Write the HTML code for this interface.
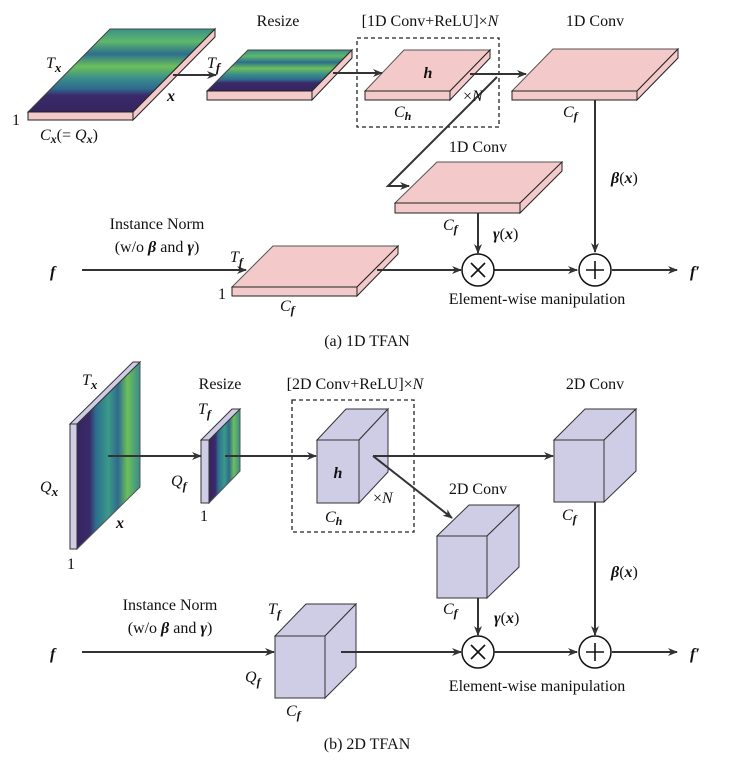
<!DOCTYPE html>
<html><head><meta charset="utf-8"><style>
html,body{margin:0;padding:0;background:#fff;}
svg{display:block;}
text{font-family:"Liberation Serif",serif;font-size:16px;fill:#111;}
.m{font-style:italic;}
.b{font-weight:bold;font-style:italic;}
.c{text-anchor:middle;}
</style></head><body>
<svg width="743" height="763" viewBox="0 0 743 763" xmlns="http://www.w3.org/2000/svg">
<defs>
<marker id="ar" markerWidth="10" markerHeight="8" refX="9" refY="4" orient="auto" markerUnits="userSpaceOnUse">
<path d="M0,0 L10,4 L0,8 L3,4 z" fill="#333"/></marker>
<linearGradient id="sh" x1="0" y1="0" x2="0" y2="1">
<stop offset="0" stop-color="#3b8f8a"/><stop offset="0.15" stop-color="#5fb86a"/><stop offset="0.3" stop-color="#2c6e8e"/>
<stop offset="0.45" stop-color="#6cc05a"/><stop offset="0.6" stop-color="#3a8c8c"/><stop offset="0.72" stop-color="#2f6a8e"/>
<stop offset="0.8" stop-color="#3a2a6a"/><stop offset="1" stop-color="#35245e"/></linearGradient>
<linearGradient id="sv" x1="0" y1="0" x2="1" y2="0">
<stop offset="0" stop-color="#35245e"/><stop offset="0.2" stop-color="#3a2a6a"/><stop offset="0.3" stop-color="#2c6e8e"/>
<stop offset="0.5" stop-color="#3a9a88"/><stop offset="0.65" stop-color="#2f6a8e"/><stop offset="0.8" stop-color="#6cc05a"/><stop offset="1" stop-color="#3a8c8c"/></linearGradient>
</defs>
<g stroke="#222" stroke-width="1">
<!-- top big slab -->
<polygon points="28,112 110,29 215,29 133,112" fill="url(#sh)" stroke="#444"/>
<polygon points="28,112 133,112 133,120 28,120" fill="#f4c9c9"/>
<polygon points="133,112 215,29 215,37 133,120" fill="#f4c9c9"/>
<!-- small slab -->
<polygon points="207,91 248,50 352,50 312,91" fill="url(#sh)" stroke="#444"/>
<polygon points="207,91 312,91 312,100 207,100" fill="#f4c9c9"/>
<polygon points="312,91 352,50 352,58 312,100" fill="#f4c9c9"/>
<!-- h slab -->
<polygon points="365,91 404,50 490,50 450,91" fill="#f4c9c9" stroke="#555"/>
<polygon points="365,91 450,91 450,100 365,100" fill="#f4c9c9"/>
<polygon points="450,91 490,50 490,58 450,100" fill="#f4c9c9"/>
<!-- right slab -->
<polygon points="512,91 553,49 678,49 637,91" fill="#f4c9c9" stroke="#555"/>
<polygon points="512,91 637,91 637,100 512,100" fill="#f4c9c9"/>
<polygon points="637,91 678,49 678,58 637,100" fill="#f4c9c9"/>
<!-- gamma slab -->
<polygon points="395,203 437,162 562,162 520,203" fill="#f4c9c9" stroke="#555"/>
<polygon points="395,203 520,203 520,213 395,213" fill="#f4c9c9"/>
<polygon points="520,203 562,162 562,171 520,213" fill="#f4c9c9"/>
<!-- bottom slab -->
<polygon points="232,287 273,246 398,246 357,287" fill="#f4c9c9" stroke="#555"/>
<polygon points="232,287 357,287 357,296 232,296" fill="#f4c9c9"/>
<polygon points="357,287 398,246 398,254 357,296" fill="#f4c9c9"/>
</g>
<rect x="357" y="38" width="142" height="89" fill="none" stroke="#222" stroke-width="1.3" stroke-dasharray="4,3"/>
<g stroke="#333" stroke-width="2" fill="none">
<line x1="173" y1="75" x2="216" y2="75" marker-end="url(#ar)"/>
<line x1="333" y1="73" x2="382" y2="73" marker-end="url(#ar)"/>
<line x1="470" y1="74" x2="526" y2="74" marker-end="url(#ar)"/>
<polyline points="497,77 388,186 409,186" marker-end="url(#ar)"/>
<line x1="595" y1="100" x2="595" y2="252" marker-end="url(#ar)"/>
<line x1="478" y1="213" x2="478" y2="253" marker-end="url(#ar)"/>
<line x1="82" y1="270" x2="246" y2="270" marker-end="url(#ar)"/>
<line x1="377" y1="270" x2="461" y2="270" marker-end="url(#ar)"/>
<line x1="494" y1="270" x2="577" y2="270" marker-end="url(#ar)"/>
<line x1="612" y1="270" x2="677" y2="270" marker-end="url(#ar)"/>
</g>
<g stroke="#111" stroke-width="1.5" fill="#fff">
<circle cx="478" cy="270" r="16"/><circle cx="595" cy="270" r="16"/>
<circle cx="478" cy="652" r="16"/><circle cx="595" cy="652" r="16"/>
</g>
<g stroke="#111" stroke-width="1.6">
<line x1="471" y1="263" x2="485" y2="277"/><line x1="485" y1="263" x2="471" y2="277"/>
<line x1="595" y1="261" x2="595" y2="279"/><line x1="586" y1="270" x2="604" y2="270"/>
<line x1="471" y1="645" x2="485" y2="659"/><line x1="485" y1="645" x2="471" y2="659"/>
<line x1="595" y1="643" x2="595" y2="661"/><line x1="586" y1="652" x2="604" y2="652"/>
</g>
<!-- top labels -->
<text x="278" y="26" class="c">Resize</text>
<text x="430" y="26" class="c">[1D Conv+ReLU]×<tspan class="m">N</tspan></text>
<text x="595" y="26" class="c">1D Conv</text>
<text x="46" y="68" class="m" font-size="18">T<tspan class="b" font-size="13" dy="4">x</tspan></text>
<text x="12" y="125" font-size="18">1</text>
<text x="40" y="140" class="m">C<tspan class="b" font-size="12" dy="3">x</tspan><tspan dy="-3" font-style="normal">(= </tspan>Q<tspan class="b" font-size="12" dy="3">x</tspan><tspan dy="-3" font-style="normal">)</tspan></text>
<text x="167" y="101" class="b" font-size="18">x</text>
<text x="207" y="68" class="m" font-size="18">T<tspan class="b" font-size="13" dy="4">f</tspan></text>
<text x="428" y="78" class="b" font-size="19" text-anchor="middle">h</text>
<text x="394" y="117" class="m">C<tspan class="b" font-size="12" dy="3">h</tspan></text>
<text x="463" y="101" font-size="15">×<tspan class="m">N</tspan></text>
<text x="563" y="117" class="m">C<tspan class="b" font-size="12" dy="3">f</tspan></text>
<text x="478" y="152" class="c">1D Conv</text>
<text x="443" y="230" class="m">C<tspan class="b" font-size="12" dy="3">f</tspan></text>
<text x="493" y="239" font-size="18"><tspan class="b">γ</tspan>(<tspan class="b">x</tspan>)</text>
<text x="611" y="183" font-size="18"><tspan class="b">β</tspan>(<tspan class="b">x</tspan>)</text>
<text x="157" y="229" class="c">Instance Norm</text>
<text x="157" y="252" class="c">(w/o <tspan class="b">β</tspan> and <tspan class="b">γ</tspan>)</text>
<text x="50" y="277" class="b" font-size="20">f</text>
<text x="230" y="262" class="m" font-size="17">T<tspan class="b" font-size="12" dy="4">f</tspan></text>
<text x="218" y="299">1</text>
<text x="280" y="311" class="m">C<tspan class="b" font-size="12" dy="3">f</tspan></text>
<text x="690" y="277" class="b" font-size="20">f′</text>
<text x="537" y="304" class="c">Element-wise manipulation</text>
<text x="367" y="346" class="c" font-size="20">(a) 1D TFAN</text>

<!-- bottom section shapes -->
<g stroke="#333" stroke-width="1">
<polygon points="77,424 140,362 140,487 77,549" fill="url(#sv)" stroke="#555"/>
<polygon points="70,424 133,362 140,362 77,424" fill="#cfcde6"/>
<rect x="70" y="424" width="7" height="125" fill="#cfcde6"/>
<polygon points="209,440 240,409 240,471 209,503" fill="url(#sv)" stroke="#555"/>
<polygon points="201,440 232,409 240,409 209,440" fill="#cfcde6"/>
<rect x="201" y="440" width="8" height="63" fill="#cfcde6"/>
<!-- h cube -->
<polygon points="317,440 346,409 388,409 359,440" fill="#cfcde6"/>
<polygon points="359,440 388,409 388,472 359,503" fill="#cfcde6"/>
<rect x="317" y="440" width="42" height="63" fill="#cfcde6"/>
<!-- right cube -->
<polygon points="554,440 585,409 636,409 604,440" fill="#cfcde6"/>
<polygon points="604,440 636,409 636,471 604,502" fill="#cfcde6"/>
<rect x="554" y="440" width="50" height="62" fill="#cfcde6"/>
<!-- middle cube -->
<polygon points="437,536 469,505 519,505 487,536" fill="#cfcde6"/>
<polygon points="487,536 519,505 519,567 487,598" fill="#cfcde6"/>
<rect x="437" y="536" width="50" height="62" fill="#cfcde6"/>
<!-- bottom cube -->
<polygon points="275,636 306,604 356,604 325,636" fill="#cfcde6"/>
<polygon points="325,636 356,604 356,667 325,698" fill="#cfcde6"/>
<rect x="275" y="636" width="50" height="62" fill="#cfcde6"/>
</g>
<rect x="292" y="400" width="122" height="132" fill="none" stroke="#222" stroke-width="1.3" stroke-dasharray="4,3"/>
<g stroke="#333" stroke-width="2" fill="none">
<line x1="108" y1="456" x2="201" y2="456" marker-end="url(#ar)"/>
<line x1="225" y1="456" x2="316" y2="456" marker-end="url(#ar)"/>
<line x1="373" y1="456" x2="553" y2="456" marker-end="url(#ar)"/>
<line x1="373" y1="456" x2="452" y2="518" marker-end="url(#ar)"/>
<line x1="595" y1="502" x2="595" y2="635" marker-end="url(#ar)"/>
<line x1="478" y1="598" x2="478" y2="635" marker-end="url(#ar)"/>
<line x1="82" y1="652" x2="274" y2="652" marker-end="url(#ar)"/>
<line x1="341" y1="652" x2="461" y2="652" marker-end="url(#ar)"/>
<line x1="494" y1="652" x2="577" y2="652" marker-end="url(#ar)"/>
<line x1="612" y1="652" x2="677" y2="652" marker-end="url(#ar)"/>
</g>
<text x="220" y="389" class="c">Resize</text>
<text x="355" y="389" class="c">[2D Conv+ReLU]×<tspan class="m">N</tspan></text>
<text x="595" y="389" class="c">2D Conv</text>
<text x="82" y="385" class="m" font-size="18">T<tspan class="b" font-size="13" dy="4">x</tspan></text>
<text x="40" y="492" class="m" font-size="18">Q<tspan class="b" font-size="13" dy="4">x</tspan></text>
<text x="116" y="528" class="b" font-size="18">x</text>
<text x="67" y="569" font-size="18">1</text>
<text x="198" y="414" class="m" font-size="17">T<tspan class="b" font-size="12" dy="4">f</tspan></text>
<text x="171" y="486" class="m" font-size="17">Q<tspan class="b" font-size="12" dy="4">f</tspan></text>
<text x="200" y="521">1</text>
<text x="338" y="478" class="b" font-size="19" text-anchor="middle">h</text>
<text x="325" y="522" class="m">C<tspan class="b" font-size="12" dy="3">h</tspan></text>
<text x="373" y="503" font-size="15">×<tspan class="m">N</tspan></text>
<text x="562" y="520" class="m">C<tspan class="b" font-size="12" dy="3">f</tspan></text>
<text x="478" y="494" class="c">2D Conv</text>
<text x="443" y="614" class="m">C<tspan class="b" font-size="12" dy="3">f</tspan></text>
<text x="494" y="623" font-size="18"><tspan class="b">γ</tspan>(<tspan class="b">x</tspan>)</text>
<text x="611" y="577" font-size="18"><tspan class="b">β</tspan>(<tspan class="b">x</tspan>)</text>
<text x="170" y="610" class="c">Instance Norm</text>
<text x="170" y="633" class="c">(w/o <tspan class="b">β</tspan> and <tspan class="b">γ</tspan>)</text>
<text x="50" y="659" class="b" font-size="20">f</text>
<text x="268" y="614" class="m" font-size="17">T<tspan class="b" font-size="12" dy="4">f</tspan></text>
<text x="245" y="682" class="m" font-size="17">Q<tspan class="b" font-size="12" dy="4">f</tspan></text>
<text x="286" y="716" class="m">C<tspan class="b" font-size="12" dy="3">f</tspan></text>
<text x="690" y="659" class="b" font-size="20">f′</text>
<text x="537" y="691" class="c">Element-wise manipulation</text>
<text x="367" y="749" class="c" font-size="20">(b) 2D TFAN</text>
</svg>
</body></html>
